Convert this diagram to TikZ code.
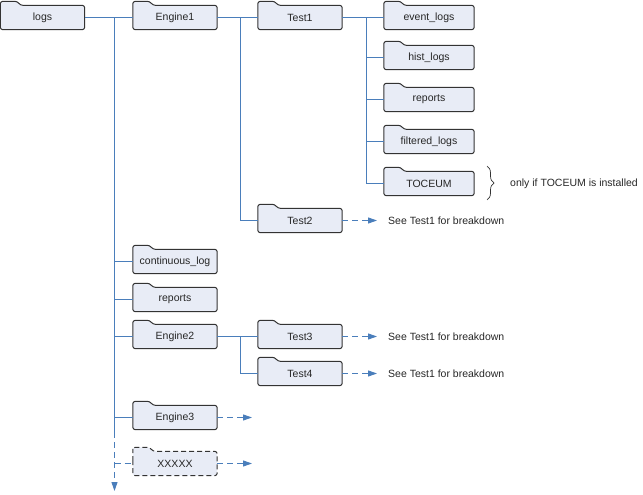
\documentclass[tikz,border=0pt]{standalone}
\usepackage{fontspec}
\setmainfont{Liberation Sans}
\usetikzlibrary{arrows.meta,decorations.pathreplacing}
\pgfdeclarelayer{background}
\pgfsetlayers{background,main}
\definecolor{boxfill}{HTML}{E8ECF6}
\definecolor{boxline}{HTML}{333333}
\definecolor{link}{HTML}{4A7EBB}
\begin{document}
\begin{tikzpicture}[x=1pt,y=-1pt,
  font=\fontsize{10.5}{12}\selectfont,
  folder/.style={inner sep=0pt,minimum height=24pt,minimum width=84pt,text=black!85},
  wide/.style={minimum width=90pt},
  frame/.style={draw=boxline,fill=boxfill,line width=1pt,rounded corners=2.5pt},
  tree/.style={draw=link,line width=0.9pt},
  dasharrow/.style={draw=link,line width=0.9pt,dash pattern=on 6pt off 4pt,
     -{Triangle[length=9pt,width=6pt]}},
  note/.style={anchor=west,inner sep=0pt,text=black!85}]
\useasboundingbox (0,0) rectangle (643,495);
% folders
\node[folder] (logs)   at (42.5,17.5) {logs};
\node[folder] (eng1)   at (175,17.5) {Engine1};
\node[folder] (test1)  at (300,17.5) {Test1};
\node[folder,wide] (evlogs) at (429,17.5) {event\_logs};
\node[folder,wide] (hist)   at (429,57.5) {hist\_logs};
\node[folder,wide] (rep1)   at (429,99.5) {reports};
\node[folder,wide] (filt)   at (429,141.5) {filtered\_logs};
\node[folder,wide] (toceum) at (429,183.5) {TOCEUM};
\node[folder] (test2)  at (300,220.5) {Test2};
\node[folder] (cont)   at (175,261.5) {continuous\_log};
\node[folder] (rep2)   at (175,299.5) {reports};
\node[folder] (eng2)   at (175,336.5) {Engine2};
\node[folder] (test3)  at (300,336.5) {Test3};
\node[folder] (test4)  at (300,373.5) {Test4};
\node[folder] (eng3)   at (175,417.5) {Engine3};
\node[folder] (xxx)    at (175,463.5) {XXXXX};
% notes
\node[note] (only) at (510,183.5) {only if TOCEUM is installed};
\node[note] (see2) at (388,220.5) {See Test1 for breakdown};
\node[note] (see3) at (388,336.5) {See Test1 for breakdown};
\node[note] (see4) at (388,373.5) {See Test1 for breakdown};
% helper coordinates
\coordinate (trunktop) at (114.5,17.5);
\coordinate (trunkmid) at (114.5,432);
\coordinate (trunkend) at (114.5,491);
\coordinate (b1) at (240.5,17.5);
\coordinate (b2) at (366.5,17.5);
\coordinate (b3) at (240.5,336.5);
\coordinate (e3end) at (252,417.5);
\coordinate (xend) at (252,463.5);
\coordinate (brtop) at (487,166);
\coordinate (brbot) at (487,200);
% background frames
\begin{pgfonlayer}{background}
\foreach \n in {logs,eng1,test1,evlogs,hist,rep1,filt,toceum,test2,cont,rep2,eng2,test3,test4,eng3}{
  \path[frame] (\n.west) -- (\n.north west) -- ++(0,-4) -- ++(17,0) -- ++(3,4)
     -- (\n.north east) -- (\n.south east) -- (\n.south west) -- cycle;
}
\path[frame,dash pattern=on 5pt off 3pt] (xxx.west) -- (xxx.north west) -- ++(0,-4) -- ++(17,0) -- ++(3,4)
     -- (xxx.north east) -- (xxx.south east) -- (xxx.south west) -- cycle;
\end{pgfonlayer}
% tree connectors
\draw[tree] (logs.east) -- (eng1.west);
\draw[tree] (eng1.east) -- (test1.west);
\draw[tree] (test1.east) -- (evlogs.west);
\draw[tree] (trunktop) -- (trunkmid);
\draw[tree,dash pattern=on 6pt off 4pt,-{Triangle[length=9pt,width=6pt]}] (trunkmid) -- (trunkend);
\draw[tree] (b1) |- (test2.west);
\draw[tree] (b2) |- (toceum.west);
\draw[tree] (b2 |- hist.west) -- (hist.west);
\draw[tree] (b2 |- rep1.west) -- (rep1.west);
\draw[tree] (b2 |- filt.west) -- (filt.west);
\draw[tree] (trunktop |- cont.west) -- (cont.west);
\draw[tree] (trunktop |- rep2.west) -- (rep2.west);
\draw[tree] (trunktop |- eng2.west) -- (eng2.west);
\draw[tree] (trunktop |- eng3.west) -- (eng3.west);
\draw[tree,dash pattern=on 6pt off 4pt] (trunktop |- xxx.west) -- (xxx.west);
\draw[tree] (eng2.east) -- (test3.west);
\draw[tree] (b3) |- (test4.west);
% dashed arrows
\draw[dasharrow] (test2.east) -- ([xshift=-11pt]see2.west);
\draw[dasharrow] (test3.east) -- ([xshift=-11pt]see3.west);
\draw[dasharrow] (test4.east) -- ([xshift=-11pt]see4.west);
\draw[dasharrow] (eng3.east) -- (e3end);
\draw[dasharrow] (xxx.east) -- (xend);
% brace
\draw[boxline,line width=0.7pt,decorate,decoration={brace,amplitude=7pt,aspect=0.5}] (brtop) -- (brbot);
\end{tikzpicture}
\end{document}
